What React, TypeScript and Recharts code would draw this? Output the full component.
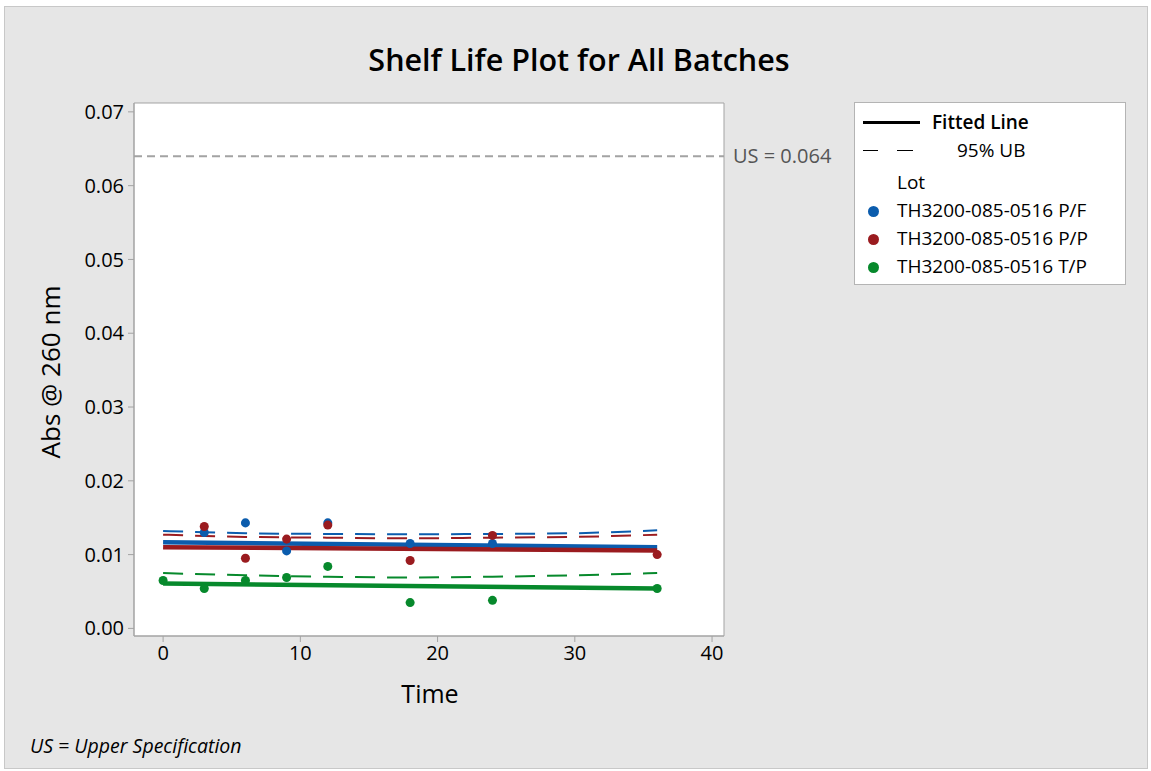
import React from "react";
import {
  ComposedChart,
  Line,
  Scatter,
  XAxis,
  YAxis,
  ReferenceLine,
  ReferenceArea,
  CartesianGrid,
} from "recharts";

// lots
const LOTS = ["TH3200-085-0516 P/F", "TH3200-085-0516 P/P", "TH3200-085-0516 T/P"];
const COLORS = ["#0b5cad", "#9a1b1f", "#07892c"];

// observed times (months)
const TIMES = [0, 3, 6, 9, 12, 18, 24, 36];

// measured absorbance per lot (null = no visible point)
const PF_VALUES = [null, 0.013, 0.0143, 0.0105, 0.0143, 0.0115, 0.0115, null];
const PP_VALUES = [null, 0.0138, 0.0095, 0.0121, 0.014, 0.0092, 0.0126, 0.01];
const TP_VALUES = [0.0065, 0.0054, 0.0065, 0.0069, 0.0084, 0.0035, 0.0038, 0.0054];

// fitted line endpoints
const FIT_TIMES = [0, 36];
const PF_FIT = [0.01166, 0.011];
const PP_FIT = [0.011, 0.01054];
const TP_FIT = [0.00607, 0.0054];

// 95% upper bound curves
const UB_TIMES = [0, 6, 12, 18, 24, 30, 36];
const PF_UB = [0.0132, 0.0129, 0.0128, 0.01275, 0.0128, 0.0129, 0.0133];
const PP_UB = [0.0127, 0.0124, 0.0123, 0.0122, 0.0123, 0.0124, 0.0127];
const TP_UB = [0.0075, 0.0072, 0.007, 0.0069, 0.007, 0.0072, 0.0075];

const US = 0.064;
const Y_TICKS = [0, 0.01, 0.02, 0.03, 0.04, 0.05, 0.06, 0.07];
const X_TICKS = [0, 10, 20, 30, 40];
const X_DOMAIN = [-2.12, 40.87];
const Y_DOMAIN = [-0.00103, 0.0712];

const toRows = (xs: number[], ys: (number | null)[]) =>
  xs.map((t, i) => ({ t, v: ys[i] })).filter((r) => r.v != null);

const points = [PF_VALUES, PP_VALUES, TP_VALUES].map((v) => toRows(TIMES, v));
const fits = [PF_FIT, PP_FIT, TP_FIT].map((v) => toRows(FIT_TIMES, v));
const ubs = [PF_UB, PP_UB, TP_UB].map((v) => toRows(UB_TIMES, v));

const FONT = '"Open Sans", "Noto Sans", sans-serif';
const GRAY = "#a3a3a3";

export default function App() {
  return (
    <div
      style={{
        position: "absolute",
        left: 0,
        top: 0,
        width: 1151,
        height: 771,
        background: "#fff",
        fontFamily: FONT,
        color: "#000",
      }}
    >
      <div
        style={{
          position: "absolute",
          left: 4,
          top: 6,
          width: 1144,
          height: 763,
          background: "#e6e6e6",
          border: "1px solid #c8c8c8",
          boxSizing: "border-box",
        }}
      />
      <div
        style={{
          position: "absolute",
          left: 0,
          width: 1158,
          top: 38,
          textAlign: "center",
          fontSize: 30.5,
          fontWeight: 600,
        }}
      >
        Shelf Life Plot for All Batches
      </div>

      <div style={{ position: "absolute", left: 0, top: 0 }}>
        <ComposedChart
          width={1151}
          height={771}
          margin={{ top: 103, right: 427, bottom: 95, left: 64 }}
        >
          <CartesianGrid fill="#fff" horizontal={false} vertical={false} />
          <XAxis
            dataKey="t"
            type="number"
            domain={X_DOMAIN}
            ticks={X_TICKS}
            allowDataOverflow
            height={40}
            stroke={GRAY}
            tickSize={6}
            tickMargin={4}
            tick={{ fill: "#000", fontSize: 20, fontFamily: FONT }}
          />
          <YAxis
            dataKey="v"
            type="number"
            domain={Y_DOMAIN}
            ticks={Y_TICKS}
            allowDataOverflow
            width={70}
            stroke={GRAY}
            tickSize={6}
            tickMargin={4}
            tickFormatter={(v: number) => v.toFixed(2)}
            tick={{ fill: "#000", fontSize: 20, fontFamily: FONT }}
          />
          {/* plot frame */}
          <ReferenceArea
            x1={X_DOMAIN[0]}
            x2={X_DOMAIN[1]}
            y1={Y_DOMAIN[0]}
            y2={Y_DOMAIN[1]}
            fill="none"
            stroke={GRAY}
            strokeWidth={1}
            strokeOpacity={1}
          />
          <ReferenceLine
            y={US}
            stroke={GRAY}
            strokeWidth={2}
            strokeDasharray="8 5"
            label={{
              value: "US = 0.064",
              position: "right",
              offset: 9,
              fill: "#555",
              fontSize: 20,
              fontFamily: FONT,
            }}
          />
          {points.map((d, i) => (
            <Scatter
              key={"pt" + i}
              data={d}
              dataKey="v"
              fill={COLORS[i]}
              shape="circle"
              isAnimationActive={false}
            />
          ))}
          {ubs.map((d, i) => (
            <Line
              key={"ub" + i}
              data={d}
              dataKey="v"
              type="monotone"
              stroke={COLORS[i]}
              strokeWidth={2}
              strokeDasharray="20 12"
              dot={false}
              activeDot={false}
              isAnimationActive={false}
            />
          ))}
          {fits.map((d, i) => (
            <Line
              key={"fit" + i}
              data={d}
              dataKey="v"
              type="linear"
              stroke={COLORS[i]}
              strokeWidth={4.5}
              dot={false}
              activeDot={false}
              isAnimationActive={false}
            />
          ))}
        </ComposedChart>
      </div>

      {/* axis titles */}
      <div
        style={{
          position: "absolute",
          left: 330,
          width: 200,
          top: 676,
          textAlign: "center",
          fontSize: 25,
          fontWeight: 500,
        }}
      >
        Time
      </div>
      <div
        style={{
          position: "absolute",
          left: 50,
          top: 372,
          width: 260,
          textAlign: "center",
          fontSize: 26,
          lineHeight: "32px",
          transform: "translate(-50%, -50%) rotate(-90deg)",
        }}
      >
        Abs @ 260 nm
      </div>

      {/* legend */}
      <div
        style={{
          position: "absolute",
          left: 854,
          top: 102,
          width: 272,
          height: 183,
          background: "#fff",
          border: "1px solid #b4b4b4",
          boxSizing: "border-box",
          fontSize: 19,
          lineHeight: "26px",
        }}
      >
        <div style={{ position: "absolute", left: 8, top: 18, width: 57, borderTop: "3px solid #000" }} />
        <div style={{ position: "absolute", left: 77, top: 6, fontWeight: 600 }}>Fitted Line</div>
        <div style={{ position: "absolute", left: 8, top: 47, width: 15, borderTop: "1px solid #000" }} />
        <div style={{ position: "absolute", left: 42, top: 47, width: 16, borderTop: "1px solid #000" }} />
        <div style={{ position: "absolute", left: 102, top: 34 }}>95% UB</div>
        <div style={{ position: "absolute", left: 42, top: 66 }}>Lot</div>
        {LOTS.map((name, i) => (
          <div key={name} style={{ position: "absolute", left: 0, top: 94 + i * 28, whiteSpace: "nowrap" }}>
            <span
              style={{
                position: "absolute",
                left: 13,
                top: 9,
                width: 11,
                height: 11,
                borderRadius: "50%",
                background: COLORS[i],
              }}
            />
            <span style={{ position: "absolute", left: 42 }}>{name}</span>
          </div>
        ))}
      </div>

      <div
        style={{
          position: "absolute",
          left: 30,
          top: 732,
          fontSize: 19.5,
          fontStyle: "italic",
        }}
      >
        US = Upper Specification
      </div>
    </div>
  );
}
